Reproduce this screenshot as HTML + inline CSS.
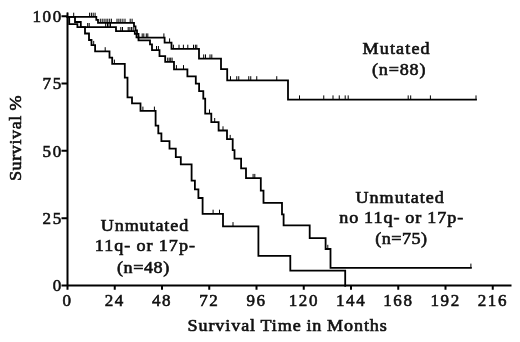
<!DOCTYPE html>
<html><head><meta charset="utf-8"><title>Survival</title>
<style>
html,body{margin:0;padding:0;background:#fff;}
body{width:520px;height:342px;overflow:hidden;}
svg{display:block;}
text{font-family:"Liberation Serif","DejaVu Serif",serif;fill:#111;}
.b{font-weight:normal;font-size:16px;stroke:#111;stroke-width:0.6px;word-spacing:-0.5px;}
.n{font-size:17px;letter-spacing:1.6px;stroke:#111;stroke-width:0.6px;}
</style></head><body>
<svg width="520" height="342" viewBox="0 0 520 342">
<rect width="520" height="342" fill="#fff"/>
<path d="M67.50 12.5V286.50M61.5 285.50H511.5M114.75 285.50V289.80M162.00 285.50V289.80M209.25 285.50V289.80M256.50 285.50V289.80M303.75 285.50V289.80M351.00 285.50V289.80M398.25 285.50V289.80M445.50 285.50V289.80M492.75 285.50V289.80M67.50 285.50V289.80M61.5 218.18H67.50M61.5 150.85H67.50M61.5 83.52H67.50M61.5 16.20H67.50" fill="none" stroke="#000" stroke-width="2"/>
<path transform="translate(0 0.4)" d="M67.50 16.50 H96.30 V19.50 H98.00 V22.50 H134.00 V26.00 H135.50 V30.00 H137.00 V33.50 H138.50 V37.20 H164.60 V42.20 H171.50 V48.50 H199.00 V58.20 H221.00 V68.80 H227.20 V80.00 H288.00 V99.20 H476.00" fill="none" stroke="#000" stroke-width="1.8" stroke-linejoin="miter" stroke-linecap="square"/>
<path transform="translate(0 0.4)" d="M67.50 16.50 H69.20 V23.70 H77.40 V26.80 H116.00 V30.80 H134.80 V33.50 H136.50 V37.00 H138.50 V40.00 H150.00 V44.00 H152.00 V49.80 H159.50 V55.80 H165.20 V61.40 H174.00 V68.90 H187.40 V76.00 H195.80 V83.20 H199.10 V90.80 H203.30 V98.20 H205.20 V113.20 H211.30 V121.80 H218.60 V130.10 H227.00 V138.70 H232.70 V149.80 H234.50 V158.30 H241.10 V168.00 H246.00 V177.70 H260.80 V190.20 H263.50 V202.50 H282.00 V213.90 H283.60 V225.00 H309.70 V237.80 H325.60 V248.60 H330.50 V267.40 H470.90" fill="none" stroke="#000" stroke-width="1.8" stroke-linejoin="miter" stroke-linecap="square"/>
<path transform="translate(0 0.4)" d="M67.50 16.50 H75.00 V21.60 H80.80 V26.80 H85.00 V33.10 H89.00 V39.60 H91.50 V44.70 H95.10 V51.00 H109.50 V57.20 H112.20 V63.40 H124.80 V77.20 H127.50 V97.00 H132.00 V103.00 H140.50 V110.40 H155.60 V125.20 H158.30 V133.00 H161.40 V140.80 H169.50 V148.20 H175.80 V156.70 H180.80 V164.00 H191.60 V180.30 H194.90 V188.90 H198.40 V197.60 H202.60 V213.50 H223.00 V225.90 H258.40 V255.50 H290.30 V270.30 H345.20 V285.50" fill="none" stroke="#000" stroke-width="1.8" stroke-linejoin="miter" stroke-linecap="square"/>
<path transform="translate(0 0.4)" d="M67.50 16.50V12.30M73.70 16.50V12.30M89.60 16.50V12.30M91.40 16.50V12.30M93.20 16.50V12.30M95.10 16.50V12.30M100.30 22.50V18.30M102.20 22.50V18.30M104.10 22.50V18.30M106.00 22.50V18.30M107.80 22.50V18.30M109.70 22.50V18.30M111.40 22.50V18.30M117.00 22.50V18.30M118.90 22.50V18.30M120.80 22.50V18.30M122.90 22.50V18.30M125.00 22.50V18.30M130.20 22.50V18.30M132.10 22.50V18.30M142.20 37.20V33.00M143.80 37.20V33.00M146.30 37.20V33.00M147.80 37.20V33.00M163.90 37.20V33.00M169.60 42.20V38.00M173.40 48.50V44.30M179.00 48.50V44.30M183.40 48.50V44.30M187.80 48.50V44.30M193.50 48.50V44.30M195.40 48.50V44.30M196.80 48.50V44.30M203.70 58.20V54.00M205.50 58.20V54.00M210.00 58.20V54.00M211.80 58.20V54.00M230.50 80.00V75.80M236.75 80.00V75.80M238.75 80.00V75.80M248.75 80.00V75.80M250.75 80.00V75.80M256.75 80.00V75.80M276.75 80.00V75.80M299.50 99.20V95.00M323.75 99.20V95.00M333.00 99.20V95.00M339.25 99.20V95.00M345.20 99.20V95.00M348.20 99.20V95.00M408.20 99.20V95.00M410.70 99.20V95.00M430.40 99.20V95.00M476.00 99.20V95.00M87.70 26.80V22.60M89.20 26.80V22.60M105.70 26.80V22.60M107.50 26.80V22.60M109.00 26.80V22.60M110.50 26.80V22.60M120.80 30.80V26.60M122.50 30.80V26.60M128.20 30.80V26.60M129.90 30.80V26.60M131.60 30.80V26.60M133.20 30.80V26.60M156.50 49.80V45.60M158.40 49.80V45.60M167.70 61.40V57.20M169.20 61.40V57.20M170.70 61.40V57.20M172.10 61.40V57.20M176.40 68.90V64.70M183.50 68.90V64.70M209.50 113.20V109.00M214.70 121.80V117.60M223.00 130.10V125.90M230.20 138.70V134.50M253.10 177.70V173.50M254.80 177.70V173.50M327.80 248.60V244.40M470.90 267.40V263.20M93.70 44.70V40.50M105.20 51.00V46.80M114.40 63.40V59.20M142.90 110.40V106.20M154.40 110.40V106.20M213.10 213.50V209.30M219.50 213.50V209.30M233.00 225.90V221.70" fill="none" stroke="#000" stroke-width="1"/>
<text class="n" x="67.60" y="306.3" text-anchor="middle">0</text>
<text class="n" x="114.85" y="306.3" text-anchor="middle">24</text>
<text class="n" x="162.10" y="306.3" text-anchor="middle">48</text>
<text class="n" x="209.35" y="306.3" text-anchor="middle">72</text>
<text class="n" x="256.60" y="306.3" text-anchor="middle">96</text>
<text class="n" x="303.85" y="306.3" text-anchor="middle">120</text>
<text class="n" x="351.10" y="306.3" text-anchor="middle">144</text>
<text class="n" x="398.35" y="306.3" text-anchor="middle">168</text>
<text class="n" x="445.60" y="306.3" text-anchor="middle">192</text>
<text class="n" x="492.85" y="306.3" text-anchor="middle">216</text>
<text class="n" x="62.8" y="291.30" text-anchor="end">0</text>
<text class="n" x="62.8" y="223.98" text-anchor="end">25</text>
<text class="n" x="62.8" y="156.65" text-anchor="end">50</text>
<text class="n" x="62.8" y="89.32" text-anchor="end">75</text>
<text class="n" x="62.8" y="22.00" text-anchor="end">100</text>
<text class="b" transform="translate(362.60 54.20) scale(1.13 1)" textLength="59.29" lengthAdjust="spacing">Mutated</text>
<text class="b" transform="translate(371.90 75.00) scale(1.13 1)" textLength="47.43" lengthAdjust="spacing">(n=88)</text>
<text class="b" transform="translate(355.50 203.20) scale(1.13 1)" textLength="78.14" lengthAdjust="spacing">Unmutated</text>
<text class="b" transform="translate(339.20 222.90) scale(1.13 1)" textLength="109.73" lengthAdjust="spacing">no 11q- or 17p-</text>
<text class="b" transform="translate(375.20 243.80) scale(1.13 1)" textLength="45.84" lengthAdjust="spacing">(n=75)</text>
<text class="b" transform="translate(100.75 230.75) scale(1.13 1)" textLength="77.43" lengthAdjust="spacing">Unmutated</text>
<text class="b" transform="translate(94.75 251.25) scale(1.13 1)" textLength="88.72" lengthAdjust="spacing">11q- or 17p-</text>
<text class="b" transform="translate(117.00 272.50) scale(1.13 1)" textLength="46.24" lengthAdjust="spacing">(n=48)</text>
<text class="b" transform="translate(187.60 330.70) scale(1.13 1)" textLength="176.28" lengthAdjust="spacing">Survival Time in Months</text>
<text class="b" transform="translate(20.90 181.00) rotate(-90) scale(1.13 1)" textLength="75.66" lengthAdjust="spacing">Survival %</text>
</svg></body></html>
